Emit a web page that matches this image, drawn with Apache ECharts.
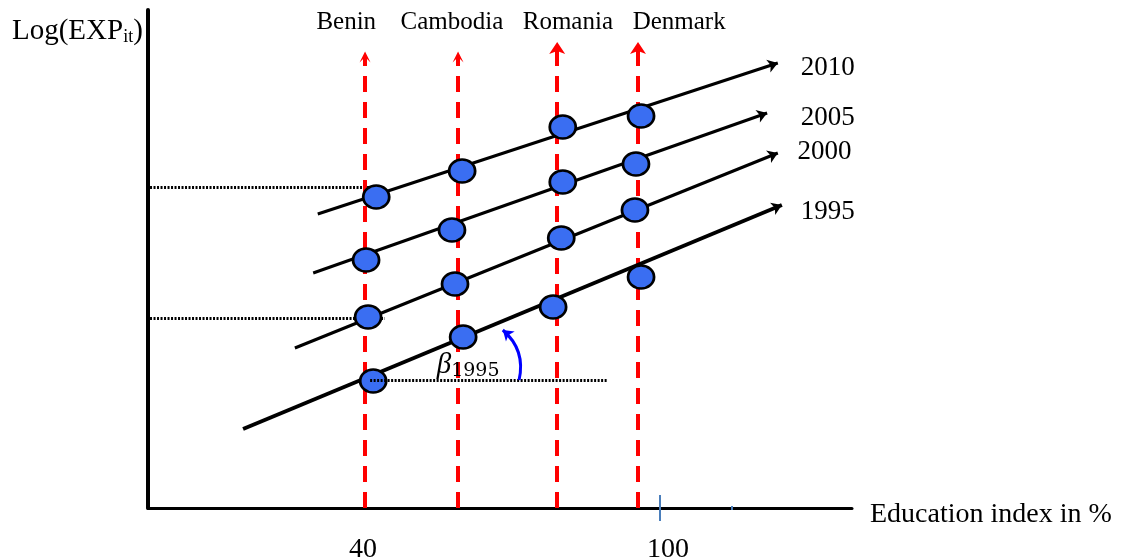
<!DOCTYPE html>
<html>
<head>
<meta charset="utf-8">
<script src="https://cdn.jsdelivr.net/npm/echarts@6/dist/echarts.min.js"></script>
<style>html,body{margin:0;padding:0;background:#fff}#c{width:1124px;height:560px}</style>
</head>
<body>
<div id="c"></div>
<script>
// ---- data (education index in %, log expenditure in arbitrary units) ----
const countries = ['Benin', 'Cambodia', 'Romania', 'Denmark'];
const years = ['1995', '2000', '2005', '2010'];
const countryEdu = [40.4, 58.7, 78.2, 94.1];
const guideTop = [90.2, 90.2, 93.2, 93.2];
const edu1995 = [42.0, 59.7, 77.4, 94.7];
const exp1995 = [25.4, 34.2, 40.2, 46.2];
const edu2000 = [41.0, 58.1, 79.0, 93.5];
const exp2000 = [38.2, 44.8, 54.0, 59.6];
const edu2005 = [40.6, 57.5, 79.3, 93.7];
const exp2005 = [49.6, 55.6, 65.2, 68.8];
const edu2010 = [42.6, 59.5, 79.3, 94.7];
const exp2010 = [62.2, 67.4, 76.2, 78.4];
const trendStart = [[16.4, 15.8], [26.6, 32.0], [30.2, 47.0], [31.1, 58.8]];
const trendEnd = [[122.4, 60.6], [121.6, 71.0], [119.5, 79.0], [121.6, 89.0]];
const refLevels = [64.2, 38.0];
const refEnds = [41.8, 44.3];
const betaBase = [[41.4, 25.6], [88.2, 25.6]];
const betaArc = [[70.7, 25.6], [67.5, 35.6]];
const tickLabels = [40, 100];
const extraTicks = [98.4, 112.6];

// ---- layout anchors for text ----
const countryLabelAt = [[36.7, 97.2], [57.5, 97.2], [80.3, 97.2], [102.2, 97.2]];
const yearLabelAt = [[126.0, 59.2], [125.4, 71.2], [126.0, 78.0], [126.0, 88.0]];
const betaLabelAt = [54.4, 28.6];

const FONT = 'Liberation Serif';
const X_MIN = -2.3, X_MAX = 136.2;

const eduSets = [edu1995, edu2000, edu2005, edu2010];
const expSets = [exp1995, exp2000, exp2005, exp2010];

const points = [];
eduSets.forEach((e, i) => e.forEach((x, j) => points.push([x, expSets[i][j]])));

const caret = 'path://M0,8L5,0L10,8L5,4Z';
const textItem = { opacity: 1, color: 'transparent' };

const chart = echarts.init(document.getElementById('c'));
chart.setOption({
  animation: false,
  grid: { left: 148, right: 272, top: 10, bottom: 52, outerBoundsMode: 'none', containLabel: false },
  xAxis: {
    type: 'value', min: X_MIN, max: X_MAX,
    axisLine: { onZero: true, lineStyle: { color: '#000', width: 3 } },
    axisTick: { show: false },
    splitLine: { show: false },
    axisLabel: { customValues: tickLabels, margin: 28, fontFamily: FONT, fontSize: 28, color: '#000' },
    name: 'Education index in %', nameLocation: 'end', nameGap: 18,
    nameTextStyle: { fontFamily: FONT, fontSize: 28, color: '#000', verticalAlign: 'top', lineHeight: 14 }
  },
  yAxis: {
    type: 'value', min: 0, max: 99.6,
    axisLine: { show: true, onZero: false, lineStyle: { color: '#000', width: 4 } },
    axisTick: { show: false }, axisLabel: { show: false }, splitLine: { show: false }
  },
  graphic: [{
    type: 'text', left: 12, top: 17,
    style: {
      text: '{a|Log(EXP}{s|it}{a|)}',
      rich: {
        a: { fontFamily: FONT, fontSize: 29, fill: '#000' },
        s: { fontFamily: FONT, fontSize: 18, fill: '#000', padding: [12, 0, 0, 0] }
      }
    }
  }],
  series: [
    // dotted reference lines (under points)
    {
      type: 'lines', coordinateSystem: 'cartesian2d', z: 2, clip: false,
      lineStyle: { color: '#000', width: 3, type: [2, 1.5], opacity: 1 },
      data: refLevels.map((y, i) => ({ coords: [[X_MIN + 0.4, y], [refEnds[i], y]] }))
    },
    // red dashed country guides
    {
      type: 'lines', coordinateSystem: 'cartesian2d', z: 3, clip: false,
      symbol: ['none', 'arrow'], symbolSize: 11,
      lineStyle: { color: '#ff0000', width: 4, type: [16, 10], opacity: 1 },
      data: countryEdu.map((x, i) => ({
        coords: [[x, 0], [x, guideTop[i]]],
        symbol: ['none', i < 2 ? caret : 'arrow'],
        symbolSize: i < 2 ? 11 : 12
      }))
    },
    // trend lines per year
    {
      type: 'lines', coordinateSystem: 'cartesian2d', z: 4, clip: false,
      symbol: ['none', 'arrow'], symbolSize: 10,
      lineStyle: { color: '#000', width: 3, opacity: 1 },
      data: trendStart.map((s, i) => ({
        coords: [s, trendEnd[i]],
        lineStyle: { width: i === 0 ? 4 : 3 }
      }))
    },
    // country-year observations
    {
      type: 'scatter', z: 5,
      symbol: 'circle', symbolSize: [26, 23],
      itemStyle: { color: '#3a6ef2', borderColor: '#000', borderWidth: 2.6, opacity: 1 },
      data: points
    },
    // beta baseline (over points)
    {
      type: 'lines', coordinateSystem: 'cartesian2d', z: 6, clip: false,
      lineStyle: { color: '#000', width: 3, type: [2, 1.5], opacity: 1 },
      data: [{ coords: betaBase }]
    },
    // beta arc
    {
      type: 'lines', coordinateSystem: 'cartesian2d', z: 6, clip: false,
      symbol: ['none', 'arrow'], symbolSize: 10,
      lineStyle: { color: '#0000ff', width: 3, curveness: -0.3, opacity: 1 },
      data: [{ coords: betaArc }]
    },
    // small blue ticks on x axis
    {
      type: 'lines', coordinateSystem: 'cartesian2d', z: 7, clip: false,
      lineStyle: { color: '#4a7ebb', width: 2, opacity: 1 },
      data: extraTicks.map((x, i) => ({ coords: [[x, i === 0 ? 2.6 : 0.4], [x, i === 0 ? -2.6 : -0.4]] }))
    },
    // country labels
    {
      type: 'scatter', z: 8, symbolSize: 1, silent: true, itemStyle: textItem,
      label: { show: true, position: 'inside', formatter: p => countries[p.dataIndex], fontFamily: FONT, fontSize: 25, color: '#000' },
      data: countryLabelAt
    },
    // year labels
    {
      type: 'scatter', z: 8, symbolSize: 1, silent: true, itemStyle: textItem,
      label: { show: true, position: 'right', distance: 0, formatter: p => years[p.dataIndex], fontFamily: FONT, fontSize: 27, color: '#000' },
      data: yearLabelAt
    },
    // beta label
    {
      type: 'scatter', z: 8, symbolSize: 1, silent: true, itemStyle: textItem,
      label: {
        show: true, position: 'right', distance: 0,
        formatter: '{b|β}{s|1995}',
        rich: {
          b: { fontFamily: FONT, fontStyle: 'italic', fontSize: 29, color: '#000' },
          s: { fontFamily: 'DejaVu Serif', fontSize: 19, color: '#000', padding: [12, 0, 0, 0] }
        }
      },
      data: [betaLabelAt]
    }
  ]
});
</script>
</body>
</html>
